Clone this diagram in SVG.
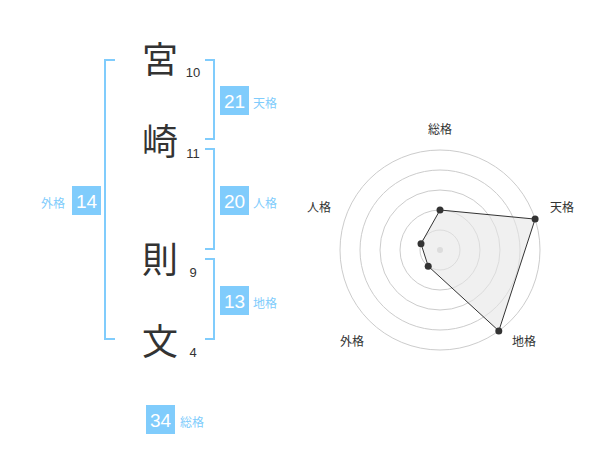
<svg xmlns="http://www.w3.org/2000/svg" width="600" height="470" viewBox="0 0 600 470">
<style>
.ch{font-family:"Noto Sans CJK JP","Noto Sans CJK SC",sans-serif;font-size:36px;fill:#333;text-anchor:middle}
.num{font-family:"Liberation Sans",Arial,sans-serif;font-size:13px;fill:#333;text-anchor:middle}
.box{fill:#80ccfc}
.bt{font-family:"Liberation Sans",Arial,sans-serif;font-size:19px;fill:#fff;text-anchor:middle}
.lb{font-family:"Noto Sans CJK JP","Noto Sans CJK SC",sans-serif;font-size:12px;fill:#80ccfc}
.br{fill:none;stroke:#80ccfc;stroke-width:2}
.ring{fill:none;stroke:#ccc;stroke-width:1}
.rl{font-family:"Noto Sans CJK JP","Noto Sans CJK SC",sans-serif;font-size:12px;fill:#333;text-anchor:middle}
.pt{fill:#333}
</style>
<rect width="600" height="470" fill="#fff"/>
<g id="connectors">
<polyline class="br" points="115,60 105,60 105,339 115,339"/>
<polyline class="br" points="205,60 214,60 214,139 205,139"/>
<polyline class="br" points="205,149 214,149 214,249 205,249"/>
<polyline class="br" points="205,259 214,259 214,339 205,339"/>
</g>
<g id="char-1"><text class="ch" x="160" y="73">宮</text><text class="num" x="193" y="77">10</text></g>
<g id="char-2"><text class="ch" x="160" y="155">崎</text><text class="num" x="193" y="158">11</text></g>
<g id="char-3"><text class="ch" x="160" y="273">則</text><text class="num" x="193" y="277">9</text></g>
<g id="char-4"><text class="ch" x="160" y="355">文</text><text class="num" x="193" y="357">4</text></g>
<g id="tenkaku"><rect class="box" x="220" y="86" width="29" height="29"/><text class="bt" x="234.5" y="108">21</text><text class="lb" x="253" y="108">天格</text></g>
<g id="jinkaku"><rect class="box" x="220" y="186" width="29" height="29"/><text class="bt" x="234.5" y="208">20</text><text class="lb" x="253" y="208">人格</text></g>
<g id="chikaku"><rect class="box" x="220" y="286" width="29" height="29"/><text class="bt" x="234.5" y="308">13</text><text class="lb" x="253" y="308">地格</text></g>
<g id="gaikaku"><rect class="box" x="72" y="186" width="29" height="29"/><text class="bt" x="86.5" y="208">14</text><text class="lb" x="41" y="208">外格</text></g>
<g id="soukaku"><rect class="box" x="146" y="405" width="29" height="29"/><text class="bt" x="160.5" y="427">34</text><text class="lb" x="180" y="427">総格</text></g>
<g id="radar">
<circle class="ring" cx="440" cy="250" r="20"/>
<circle class="ring" cx="440" cy="250" r="40"/>
<circle class="ring" cx="440" cy="250" r="60"/>
<circle class="ring" cx="440" cy="250" r="80"/>
<circle class="ring" cx="440" cy="250" r="100"/>
<circle cx="440" cy="250" r="3" fill="#ccc"/>
<polygon points="440,210 535.1,219.1 498.8,330.9 428.2,266.2 421,243.8" fill="#e6e6e6" fill-opacity="0.6" stroke="#333" stroke-width="1"/>
<circle class="pt" cx="440" cy="210" r="3.5"/>
<circle class="pt" cx="535.1" cy="219.1" r="3.5"/>
<circle class="pt" cx="498.8" cy="330.9" r="3.5"/>
<circle class="pt" cx="428.2" cy="266.2" r="3.5"/>
<circle class="pt" cx="421" cy="243.8" r="3.5"/>
<text class="rl" x="440" y="134">総格</text>
<text class="rl" x="562" y="212">天格</text>
<text class="rl" x="524" y="346">地格</text>
<text class="rl" x="352" y="346">外格</text>
<text class="rl" x="319" y="212">人格</text>
</g>
</svg>
